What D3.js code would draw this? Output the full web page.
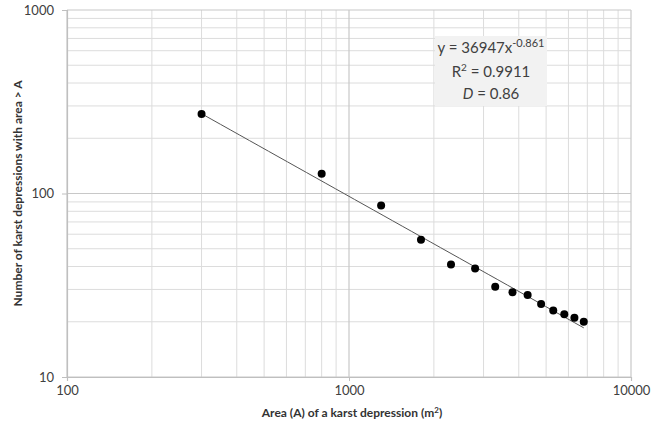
<!DOCTYPE html>
<html>
<head>
<meta charset="utf-8">
<script src="https://cdn.jsdelivr.net/npm/d3@7"></script>
<style>
  html, body { margin: 0; padding: 0; background: #fff; }
  svg { display: block; font-family: Lato, "Open Sans", sans-serif; }
</style>
</head>
<body>
<div id="chart"></div>
<script>
// Datos
const areas = [300, 800, 1300, 1800, 2300, 2800, 3300, 3800, 4300, 4800, 5300, 5800, 6300, 6800];
const counts = [271, 128, 86, 56, 41, 39, 31, 29, 28, 25, 23, 22, 21, 20];
const xTicks = [100, 1000, 10000];
const yTicks = [10, 100, 1000];
const fitCoef = 36947;
const fitExp = -0.861;
const fitRange = [300, 6800];

const width = 660, height = 423;
const margin = { top: 10, right: 29, bottom: 46, left: 67 };

const svg = d3.select("#chart").append("svg")
    .attr("width", width)
    .attr("height", height);

const x = d3.scaleLog().domain([100, 10000]).range([margin.left, width - margin.right]);
const y = d3.scaleLog().domain([10, 1000]).range([height - margin.bottom, margin.top]);

// Rejilla menor y mayor
const minorX = x.ticks().filter(v => !xTicks.includes(v));
const minorY = y.ticks().filter(v => !yTicks.includes(v));

const grid = svg.append("g");
grid.selectAll(".gx").data(minorX).enter().append("line")
    .attr("x1", d => x(d)).attr("x2", d => x(d))
    .attr("y1", y(10)).attr("y2", y(1000))
    .attr("stroke", "#dcdcdc").attr("stroke-width", 1);
grid.selectAll(".gy").data(minorY).enter().append("line")
    .attr("x1", x(100)).attr("x2", x(10000))
    .attr("y1", d => y(d)).attr("y2", d => y(d))
    .attr("stroke", "#dcdcdc").attr("stroke-width", 1);
grid.selectAll(".gxM").data(xTicks).enter().append("line")
    .attr("x1", d => x(d)).attr("x2", d => x(d))
    .attr("y1", y(10)).attr("y2", y(1000))
    .attr("stroke", "#c8c8c8").attr("stroke-width", 1.2);
grid.selectAll(".gyM").data(yTicks).enter().append("line")
    .attr("x1", x(100)).attr("x2", x(10000))
    .attr("y1", d => y(d)).attr("y2", d => y(d))
    .attr("stroke", "#c8c8c8").attr("stroke-width", 1.2);

// Ejes
const xAxis = d3.axisBottom(x).tickValues(xTicks).tickFormat(d3.format("d")).tickSize(4).tickPadding(5);
const yAxis = d3.axisLeft(y).tickValues(yTicks).tickFormat(d3.format("d")).tickSize(5).tickPadding(8);

const gx = svg.append("g").attr("transform", `translate(0,${y(10)})`).call(xAxis);
const gy = svg.append("g").attr("transform", `translate(${x(100)},0)`).call(yAxis);
[gx, gy].forEach(g => {
    g.select(".domain").attr("stroke", "#bfbfbf").attr("stroke-width", 1.2);
    g.selectAll(".tick line").attr("stroke", "#bfbfbf");
    g.selectAll(".tick text").attr("fill", "#404040").style("font-size", "13px")
        .style("font-family", "Lato, 'Open Sans', sans-serif");
});

// Línea de tendencia (potencial)
const fitPts = d3.range(0, 41).map(i => {
    const a = fitRange[0] * Math.pow(fitRange[1] / fitRange[0], i / 40);
    return [a, fitCoef * Math.pow(a, fitExp)];
});
svg.append("path")
    .datum(fitPts)
    .attr("fill", "none")
    .attr("stroke", "#555")
    .attr("stroke-width", 1)
    .attr("d", d3.line().x(d => x(d[0])).y(d => y(d[1])));

// Puntos
svg.selectAll(".pt").data(areas).enter().append("circle")
    .attr("cx", d => x(d))
    .attr("cy", (d, i) => y(counts[i]))
    .attr("r", 4)
    .attr("fill", "#000");

// Cuadro de la ecuación
const box = svg.append("g");
box.append("rect")
    .attr("x", 435).attr("y", 36).attr("width", 112).attr("height", 70)
    .attr("fill", "#f2f2f2");
const eq = box.append("text").attr("x", 491).attr("y", 53).attr("text-anchor", "middle")
    .attr("fill", "#404040").style("font-size", "15px");
eq.append("tspan").text("y = 36947x");
eq.append("tspan").attr("dy", -6).style("font-size", "11px").text("-0.861");
const r2 = box.append("text").attr("x", 491).attr("y", 77).attr("text-anchor", "middle")
    .attr("fill", "#404040").style("font-size", "15px");
r2.append("tspan").text("R");
r2.append("tspan").attr("dy", -6).style("font-size", "10px").text("2");
r2.append("tspan").attr("dy", 6).text(" = 0.9911");
const dd = box.append("text").attr("x", 491).attr("y", 99).attr("text-anchor", "middle")
    .attr("fill", "#404040").style("font-size", "15px");
dd.append("tspan").style("font-style", "italic").text("D");
dd.append("tspan").text(" = 0.86");

// Títulos de ejes
const xt = svg.append("text")
    .attr("x", 352).attr("y", 417)
    .attr("text-anchor", "middle")
    .attr("fill", "#333")
    .style("font-size", "12px").style("font-weight", "bold");
xt.append("tspan").text("Area (A) of a karst depression (m");
xt.append("tspan").attr("dy", -4).style("font-size", "8px").text("2");
xt.append("tspan").attr("dy", 4).text(")");

svg.append("text")
    .attr("transform", `translate(22,${(y(10) + y(1000)) / 2}) rotate(-90)`)
    .attr("text-anchor", "middle")
    .attr("fill", "#333")
    .style("font-size", "12px").style("font-weight", "bold")
    .text("Number of karst depressions with area > A");
</script>
</body>
</html>
